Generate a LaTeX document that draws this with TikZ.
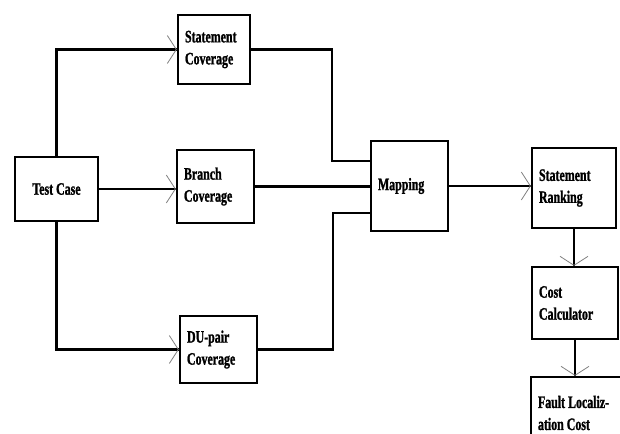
\documentclass[tikz,border=0pt]{standalone}
\usepackage{fontspec}
\setmainfont[FakeStretch=0.68, BoldFeatures={FakeBold=1.2}]{Liberation Serif}
\usetikzlibrary{arrows.meta,calc}

\newcommand\boxfont{\fontsize{17.5}{22}\selectfont\bfseries}

\tikzset{
    block/.style={draw, line width=2.4pt, align=left, inner xsep=7pt, font=\boxfont},
    wire/.style={line width=2.3pt},
    arr/.style={wire, postaction={draw, wire, -{Straight Barb[length=9pt, width=28pt, line width=0.8pt, color=gray]}}}
}

\begin{document}
\begin{tikzpicture}[x=1pt, y=-1pt]
    \useasboundingbox (0,0) rectangle (620,433);
    \clip (0,0) rectangle (620,433);
    % Boxes
    \node[block, align=center, minimum width=83pt, minimum height=64pt] (tc) at (56.5,189) {Test\hspace{3pt}Case};
    \node[block, minimum width=72pt, minimum height=69pt, text width=58pt] (sc) at (214,49.5) {Statement\\Coverage};
    \node[block, minimum width=77pt, minimum height=73pt, text width=63pt] (bc) at (215.5,186.5) {Branch\\Coverage};
    \node[block, minimum width=77pt, minimum height=67pt, text width=63pt] (du) at (218.5,349.5) {DU-pair\\Coverage};
    \node[block, minimum width=77pt, minimum height=90pt, text width=63pt] (mp) at (409.5,186) {Mapping};
    \node[block, minimum width=84pt, minimum height=80pt, text width=70pt] (sr) at (574,188) {Statement\\Ranking};
    \node[block, minimum width=86pt, minimum height=72pt, text width=72pt] (cc) at (575,303) {Cost\\Calculator};
    \node[block, minimum width=90pt, minimum height=72pt, text width=76pt] (fl) at (576,413) {Fault\hspace{3pt}Localiz-\\ation\hspace{3pt}Cost};
    % Junctions in front of the mapping box
    \coordinate (j1) at (332,161);
    \coordinate (j2) at (333,213);
    % Test case to the three coverages
    \draw[arr] (tc.north) |- (sc.west);
    \draw[arr] (tc.east) -- (tc.east -| bc.west);
    \draw[arr] (tc.south) |- (du.west);
    % Coverages into mapping
    \draw[wire] (sc.east) -| (j1) -- (j1 -| mp.west);
    \draw[wire] (bc.east) -- (bc.east -| mp.west);
    \draw[wire] (du.east) -| (j2) -- (j2 -| mp.west);
    % Mapping to the ranking chain
    \draw[arr] (mp.east) -- (mp.east -| sr.west);
    \draw[arr] (sr.south) -- (sr.south |- cc.north);
    \draw[arr] (cc.south) -- (cc.south |- fl.north);
\end{tikzpicture}
\end{document}
